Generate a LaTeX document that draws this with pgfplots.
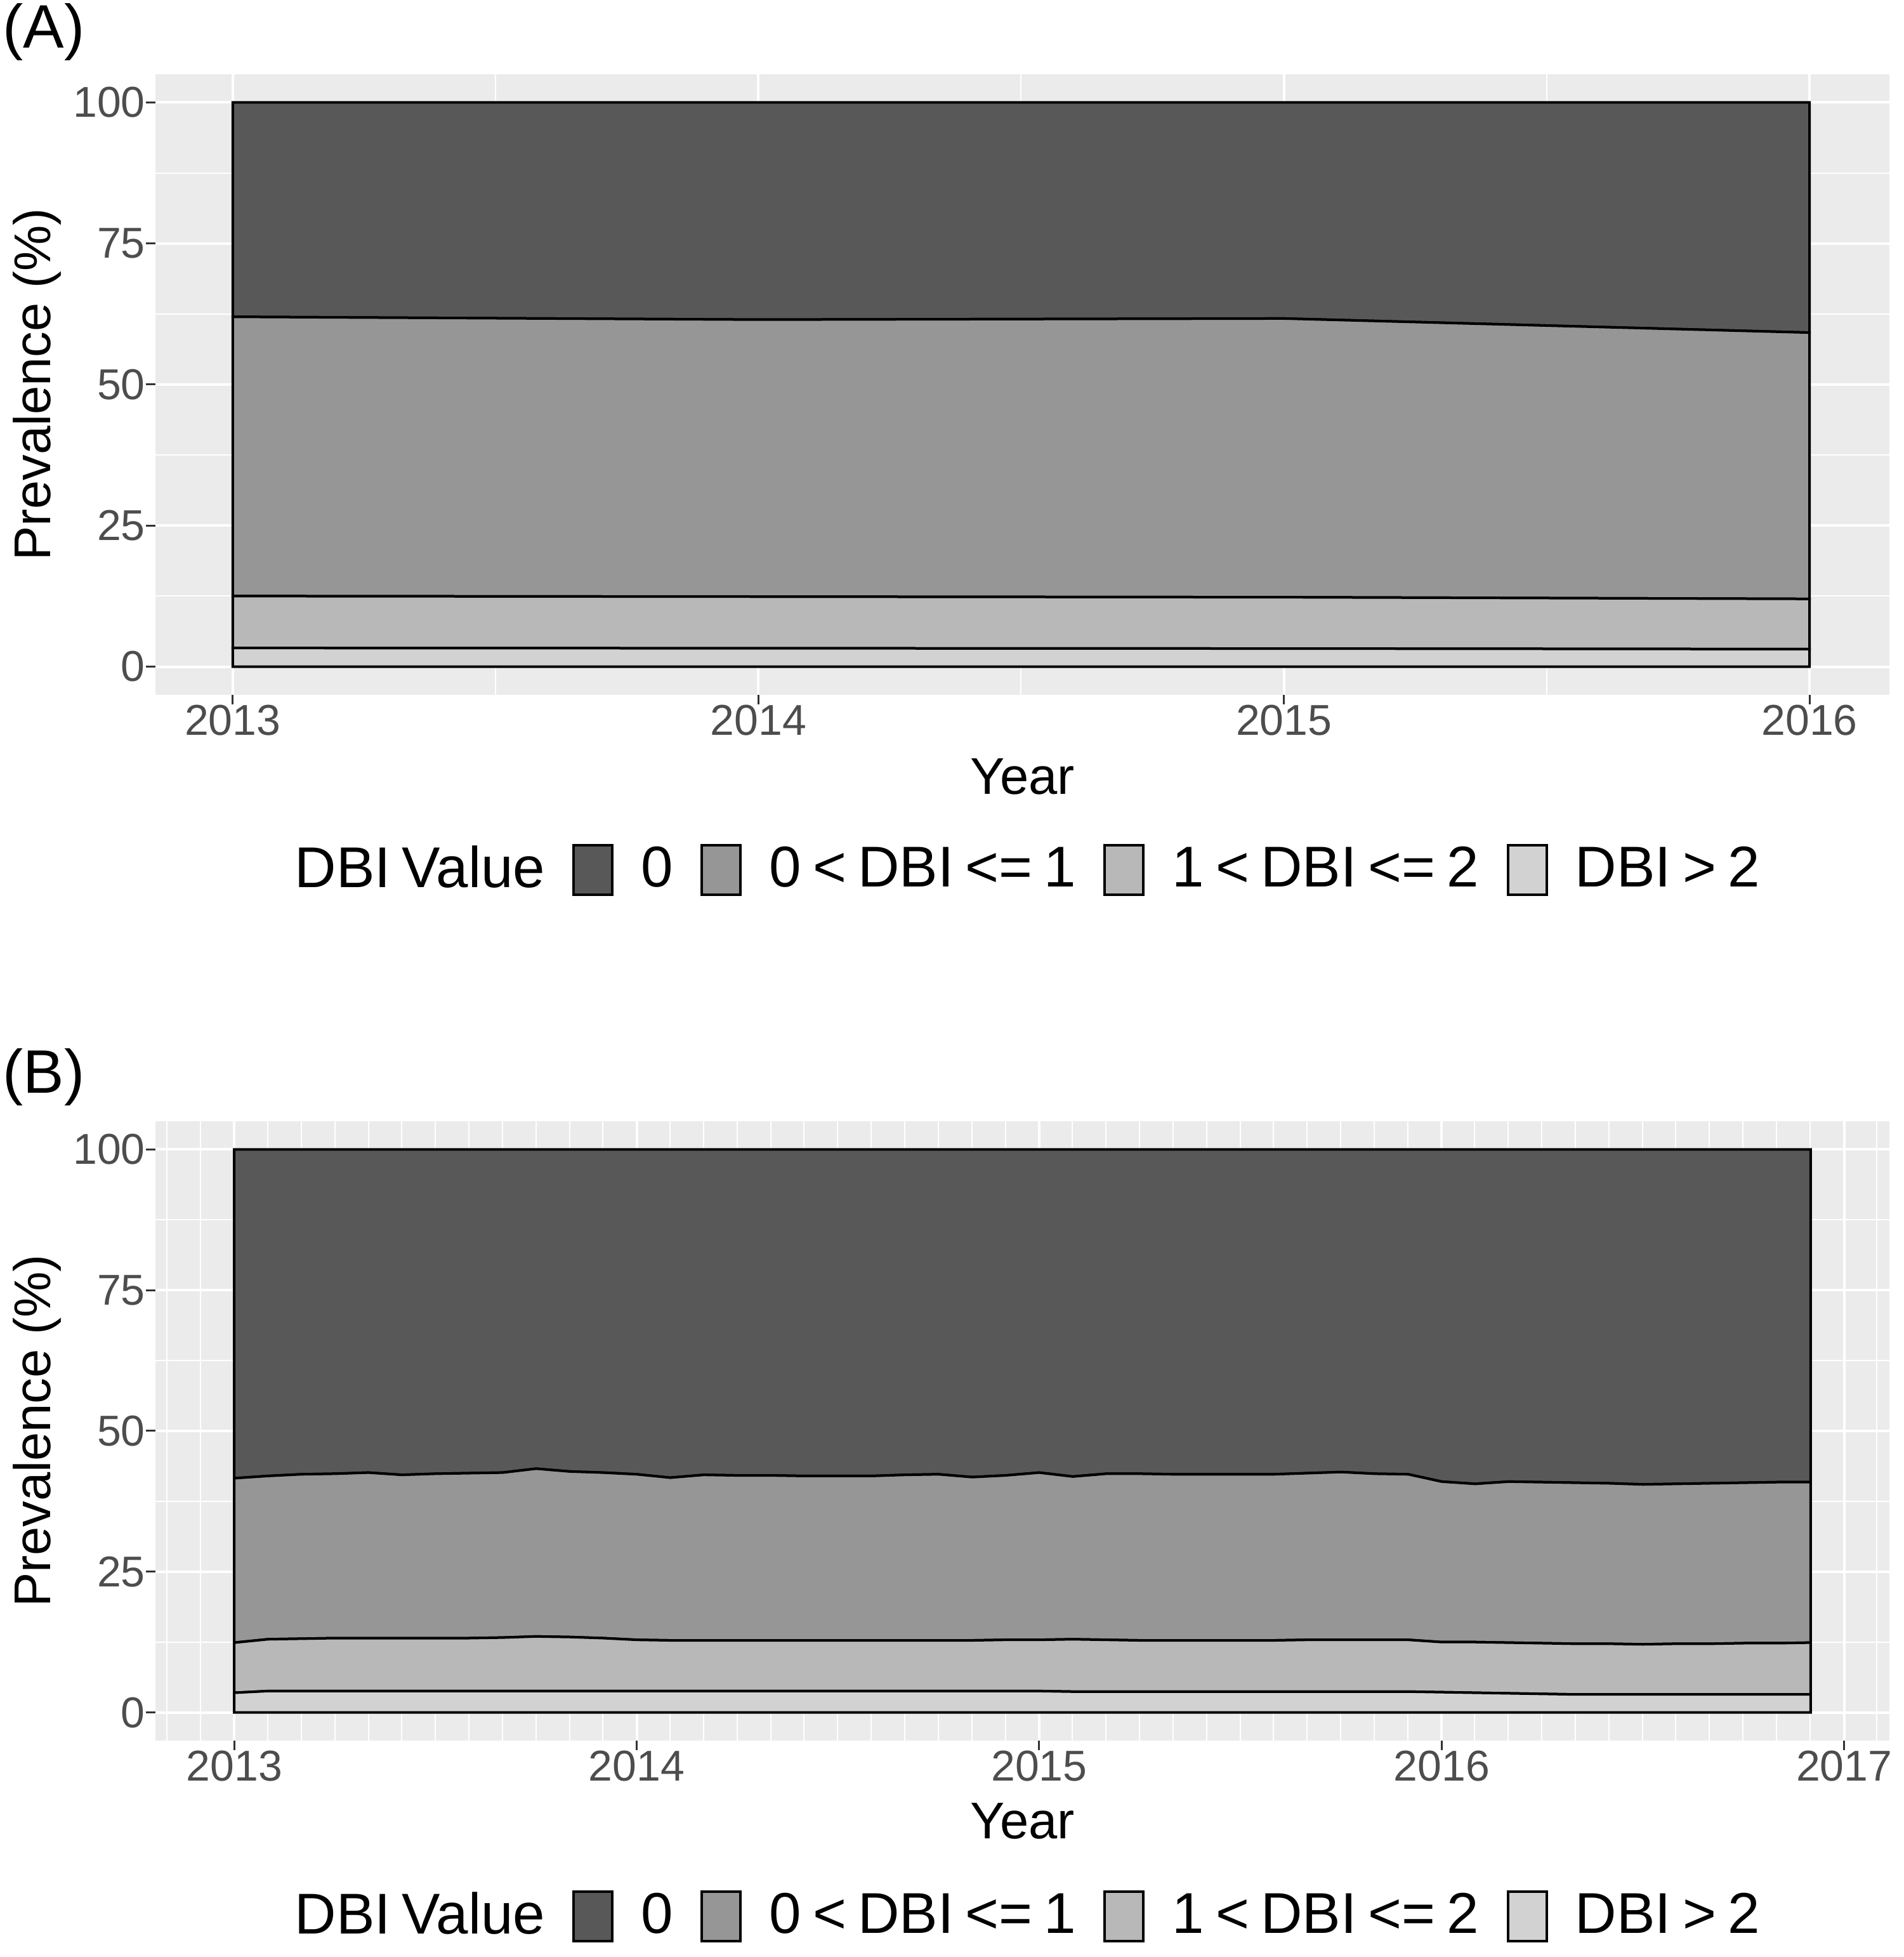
\documentclass[border=0pt]{standalone}
\usepackage{fontspec}
\setmainfont{Liberation Sans}
\usepackage{pgfplots}
\usepackage{pgfplotstable}
\pgfplotsset{compat=1.18}

\definecolor{panel}{HTML}{EBEBEB}
\definecolor{cA}{HTML}{585858}
\definecolor{cB}{HTML}{969696}
\definecolor{cC}{HTML}{B8B8B8}
\definecolor{cD}{HTML}{D2D2D2}
\definecolor{ticktext}{HTML}{4D4D4D}
\definecolor{tickcol}{HTML}{333333}

\newcommand{\lsp}{\hspace{0.2em}}

% band shares (%): g3 = DBI>2, g2 = 1<DBI<=2, g1 = 0<DBI<=1, g0 = 0
\pgfplotstableread{
year g3 g2 g1 g0
2013 3.3 9.2 49.5 38.0
2014 3.25 9.15 49.1 38.5
2015 3.2 9.1 49.4 38.3
2016 3.1 8.9 47.2 40.8
}\dataA

\pgfplotstableread{
year g3 g2 g1 g0
2013.0000 3.5 8.9 29.2 58.4
2013.0833 3.8 9.2 29.0 58.0
2013.1667 3.8 9.3 29.2 57.7
2013.2500 3.8 9.4 29.2 57.6
2013.3333 3.8 9.4 29.4 57.4
2013.4167 3.8 9.4 29.0 57.8
2013.5000 3.8 9.4 29.2 57.6
2013.5833 3.8 9.4 29.3 57.5
2013.6667 3.8 9.5 29.3 57.4
2013.7500 3.8 9.7 29.8 56.7
2013.8333 3.8 9.6 29.4 57.2
2013.9167 3.8 9.4 29.4 57.4
2014.0000 3.8 9.1 29.4 57.7
2014.0833 3.8 9.0 28.9 58.3
2014.1667 3.8 9.0 29.4 57.8
2014.2500 3.8 9.0 29.3 57.9
2014.3333 3.8 9.0 29.3 57.9
2014.4167 3.8 9.0 29.2 58.0
2014.5000 3.8 9.0 29.2 58.0
2014.5833 3.8 9.0 29.2 58.0
2014.6667 3.8 9.0 29.4 57.8
2014.7500 3.8 9.0 29.5 57.7
2014.8333 3.8 9.0 29.0 58.2
2014.9167 3.8 9.1 29.2 57.9
2015.0000 3.8 9.1 29.7 57.4
2015.0833 3.7 9.3 28.9 58.1
2015.1667 3.7 9.2 29.5 57.6
2015.2500 3.7 9.1 29.6 57.6
2015.3333 3.7 9.1 29.5 57.7
2015.4167 3.7 9.1 29.5 57.7
2015.5000 3.7 9.1 29.5 57.7
2015.5833 3.7 9.1 29.5 57.7
2015.6667 3.7 9.2 29.6 57.5
2015.7500 3.7 9.2 29.8 57.3
2015.8333 3.7 9.2 29.5 57.6
2015.9167 3.7 9.2 29.4 57.7
2016.0000 3.6 8.9 28.5 59.0
2016.0833 3.5 9.0 28.1 59.4
2016.1667 3.4 9.0 28.6 59.0
2016.2500 3.3 9.0 28.6 59.1
2016.3333 3.2 9.0 28.6 59.2
2016.4167 3.2 9.0 28.5 59.3
2016.5000 3.2 8.9 28.4 59.5
2016.5833 3.2 9.0 28.4 59.4
2016.6667 3.2 9.0 28.5 59.3
2016.7500 3.2 9.1 28.5 59.2
2016.8333 3.2 9.1 28.6 59.1
2016.9167 3.2 9.2 28.5 59.1
}\dataB

\pgfplotsset{
  bandlegend/.style={legend image code/.code={%
    \draw[##1, draw=black, line width=0.6pt] (0pt,-5.85pt) rectangle (9.15pt,5.85pt);}},
  ggstyle/.style={
    scale only axis,
    width=409.95pt,
    ymin=-5, ymax=105,
    ytick={0,25,50,75,100},
    minor ytick={12.5,37.5,62.5,87.5},
    axis background/.style={fill=panel},
    axis line style={draw=none},
    grid=both,
    major grid style={white, line width=0.6pt},
    minor grid style={white, line width=0.3pt},
    xtick pos=bottom,
    ytick pos=left,
    tick align=outside,
    major tick length=2.25pt,
    minor tick length=0pt,
    tick style={tickcol, line width=0.45pt},
    tick label style={font=\fontsize{10.2}{12}\selectfont, text=ticktext},
    /pgf/number format/assume math mode=true,
    xticklabel style={/pgf/number format/1000 sep={}, anchor=north, inner sep=0pt},
    yticklabel style={anchor=east, inner sep=0pt},
    label style={font=\fontsize{12.2}{14}\selectfont},
    ylabel={Prevalence (\%)},
    xlabel={Year},
    stack plots=y,
    legend columns=-1,
    reverse legend,
    legend style={draw=none, fill=none,
      font=\fontsize{13.6}{16}\selectfont,
      column sep=6.5pt, inner sep=0pt, nodes={inner sep=0pt}},
  },
  band/.style={fill=#1, draw=black, line width=0.6pt, bandlegend},
}

\begin{document}
\begin{tikzpicture}
\useasboundingbox (0,0) rectangle (450pt,462.6pt);

% ---------- Panel A ----------
\begin{axis}[ggstyle,
  at={(36.75pt,298.35pt)}, anchor=south west,
  height=146.7pt,
  xmin=2012.853, xmax=2016.152,
  xtick={2013,2014,2015,2016},
  minor xtick={2013.5,2014.5,2015.5},
  ylabel style={at={(axis description cs:-0.05379,0.5)}, anchor=south, inner sep=0pt},
  xlabel style={at={(axis description cs:0.5,-0.1605)}, anchor=base, inner sep=0pt},
  legend style={at={(axis description cs:0.0640,-0.2822)}, anchor=west},
]
\addplot[band=cD] table[x=year, y=g3] {\dataA} \closedcycle;
\addplot[band=cC] table[x=year, y=g2] {\dataA} \closedcycle;
\addplot[band=cB] table[x=year, y=g1] {\dataA} \closedcycle;
\addplot[band=cA] table[x=year, y=g0] {\dataA} \closedcycle;
\addlegendentry{DBI\lsp>\lsp 2}
\addlegendentry{1\lsp<\lsp DBI\lsp<=\lsp 2}
\addlegendentry{0\lsp<\lsp DBI\lsp<=\lsp 1}
\addlegendentry{0}
\addlegendimage{empty legend}
\addlegendentry{DBI\lsp Value}
\end{axis}

% ---------- Panel B ----------
\begin{axis}[ggstyle,
  at={(36.75pt,51.15pt)}, anchor=south west,
  height=146.4pt,
  xmin=2012.8042, xmax=2017.1125,
  xtick={2013,2014,2015,2016,2017},
  minor xtick={2012.833333,2012.916667,...,2017.1},
  ylabel style={at={(axis description cs:-0.05379,0.5)}, anchor=south, inner sep=0pt},
  xlabel style={at={(axis description cs:0.5,-0.1588)}, anchor=base, inner sep=0pt},
  legend style={at={(axis description cs:0.0640,-0.2838)}, anchor=west},
]
\addplot[band=cD] table[x=year, y=g3] {\dataB} \closedcycle;
\addplot[band=cC] table[x=year, y=g2] {\dataB} \closedcycle;
\addplot[band=cB] table[x=year, y=g1] {\dataB} \closedcycle;
\addplot[band=cA] table[x=year, y=g0] {\dataB} \closedcycle;
\addlegendentry{DBI\lsp>\lsp 2}
\addlegendentry{1\lsp<\lsp DBI\lsp<=\lsp 2}
\addlegendentry{0\lsp<\lsp DBI\lsp<=\lsp 1}
\addlegendentry{0}
\addlegendimage{empty legend}
\addlegendentry{DBI\lsp Value}
\end{axis}

\node[anchor=base west, inner sep=0pt, font=\fontsize{14.5}{17}\selectfont] at (0.5pt,451.2pt) {(A)};
\node[anchor=base west, inner sep=0pt, font=\fontsize{14.5}{17}\selectfont] at (0.5pt,204.15pt) {(B)};
\end{tikzpicture}
\end{document}
